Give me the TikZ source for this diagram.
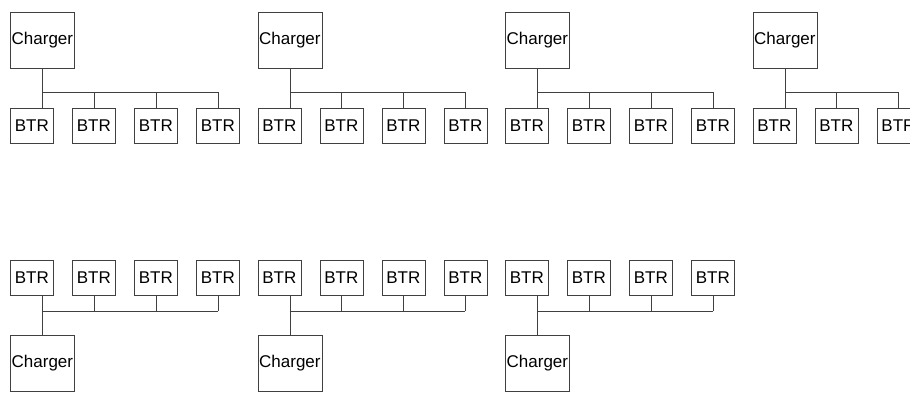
\documentclass[tikz,border=0pt]{standalone}
\usepackage{fontspec}
\setmainfont{Liberation Sans}
\tikzset{
  box/.style={draw=black!75, line width=0.8pt, inner sep=0pt, anchor=north west,
    font=\fontsize{17}{17}\selectfont},
  charger/.style={box, minimum width=64pt, minimum height=56pt},
  btr/.style={box, minimum width=43pt, minimum height=35pt},
  wire/.style={draw=black!75, line width=0.8pt}
}
\begin{document}
\begin{tikzpicture}[x=1pt,y=-1pt]
\useasboundingbox (0,0) rectangle (910,392);
\clip (0,0) rectangle (910,392);
% top row: charger above its BTRs
\foreach \g/\n in {1/4,2/4,3/4,4/3} {
  \pgfmathsetmacro\xo{10+247.5*(\g-1)}
  \node[charger] (ct\g) at (\xo,12) {Charger};
  \foreach \i in {1,...,\n}
    \node[btr] (bt\g-\i) at (\xo+62*\i-62,108) {BTR};
  \coordinate (bus\g) at (\xo,92);
  \draw[wire] (ct\g.south) -- (ct\g.south |- bt\g-1.north);
  \draw[wire] (ct\g.south |- bus\g) -- (bt\g-\n.north |- bus\g);
  \foreach \i in {2,...,\n}
    \draw[wire] (bt\g-\i.north) -- (bt\g-\i.north |- bus\g);
}
% bottom row: charger below its BTRs
\foreach \g in {1,2,3} {
  \pgfmathsetmacro\xo{10+247.5*(\g-1)}
  \node[charger] (cb\g) at (\xo,335) {Charger};
  \foreach \i in {1,...,4}
    \node[btr] (bb\g-\i) at (\xo+62*\i-62,260) {BTR};
  \coordinate (dbus\g) at (\xo,311);
  \draw[wire] (cb\g.north) -- (cb\g.north |- bb\g-1.south);
  \draw[wire] (cb\g.north |- dbus\g) -- (bb\g-4.south |- dbus\g);
  \foreach \i in {2,...,4}
    \draw[wire] (bb\g-\i.south) -- (bb\g-\i.south |- dbus\g);
}
\end{tikzpicture}
\end{document}
